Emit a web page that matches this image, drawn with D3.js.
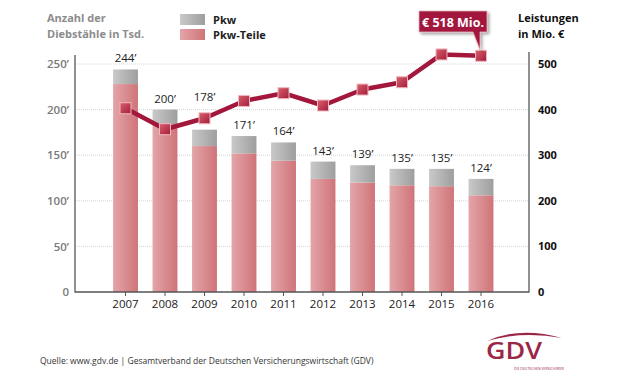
<!DOCTYPE html>
<html><head><meta charset="utf-8">
<script src="https://cdn.jsdelivr.net/npm/d3@7"></script>
<style>body{margin:0;background:#fff}svg{display:block}text{font-family:"Open Sans","Noto Sans",sans-serif}</style>
</head><body>
<script>
const years = ["2007","2008","2009","2010","2011","2012","2013","2014","2015","2016"];
const pkwTeile = [228,184,160,152,144,124,120,117,116,106];
const pkw = [16,16,18,19,20,19,19,18,19,18];
const totalLabels = ["244’","200’","178’","171’","164’","143’","139’","135’","135’","124’"];
const leistungen = [403,357,381,419,436,409,444,460,521,518];
const leftTicks = [0,50,100,150,200,250];
const leftTickLabels = ["0","50’","100’","150’","200’","250’"];
const rightTicks = [0,100,200,300,400,500];
const calloutText = "€ 518 Mio.";

const W=621,H=383;
const svg=d3.select("body").append("svg").attr("width",W).attr("height",H);
const defs=svg.append("defs");
const gPink=defs.append("linearGradient").attr("id","gp");
gPink.append("stop").attr("offset","0").attr("stop-color","#e3a5a8");
gPink.append("stop").attr("offset","1").attr("stop-color","#cf7479");
const gGray=defs.append("linearGradient").attr("id","gg");
gGray.append("stop").attr("offset","0").attr("stop-color","#c9c9c9");
gGray.append("stop").attr("offset","1").attr("stop-color","#9e9e9e");
const gMark=defs.append("linearGradient").attr("id","gm").attr("x1",0).attr("y1",0).attr("x2",1).attr("y2",1);
gMark.append("stop").attr("offset","0").attr("stop-color","#d9606e");
gMark.append("stop").attr("offset","1").attr("stop-color","#a41d3a");
const sh=defs.append("filter").attr("id","sh").attr("x","-20%").attr("y","-20%").attr("width","150%").attr("height","160%");
sh.append("feDropShadow").attr("dx",2).attr("dy",2).attr("stdDeviation",1.5).attr("flood-color","#000").attr("flood-opacity",0.35);

const xL=75,xR=529,y0=292,yTop=64;
const x=d3.scaleBand().domain(years).range([105.75,500.75]).paddingInner(0.37).paddingOuter(0.185);
const yL=d3.scaleLinear().domain([0,250]).range([y0,yTop]);
const yR=d3.scaleLinear().domain([0,500]).range([y0,yTop]);

// grid
svg.append("g").selectAll("line").data(leftTicks.slice(1)).join("line")
  .attr("x1",xL).attr("x2",xR).attr("y1",d=>yL(d)).attr("y2",d=>yL(d))
  .attr("stroke","#d6d6d6").attr("stroke-width",1).attr("stroke-dasharray","1,1");

// bars
const bars=svg.append("g");
const labelLayer=svg.append("g");
years.forEach((yr,i)=>{
  bars.append("rect").attr("x",x(yr)).attr("width",x.bandwidth())
    .attr("y",yL(pkwTeile[i])).attr("height",y0-yL(pkwTeile[i])).attr("fill","url(#gp)");
  bars.append("rect").attr("x",x(yr)).attr("width",x.bandwidth())
    .attr("y",yL(pkwTeile[i]+pkw[i])).attr("height",yL(pkwTeile[i])-yL(pkwTeile[i]+pkw[i])).attr("fill","url(#gg)");
});

// axes
const axL=svg.append("g").attr("transform",`translate(${xL},0)`).call(d3.axisLeft(yL).tickValues(leftTicks).tickSize(0).tickPadding(6).tickFormat((d,i)=>leftTickLabels[i]));
axL.select(".domain").remove();
axL.selectAll("text").attr("font-size",11.5).attr("font-weight","600").attr("fill","#7a7a7a").attr("font-family","Open Sans");
const axR=svg.append("g").attr("transform",`translate(${xR},0)`).call(d3.axisRight(yR).tickValues(rightTicks).tickSize(0).tickPadding(9));
axR.select(".domain").remove();
axR.selectAll("text").attr("font-size",11).attr("font-weight","bold").attr("fill","#111").attr("font-family","Open Sans");
const axB=svg.append("g").attr("transform",`translate(0,${y0})`).call(d3.axisBottom(x).tickSize(4).tickPadding(4));
axB.select(".domain").remove();
axB.selectAll("line").attr("stroke","#555");
axB.selectAll("text").attr("font-size",11.5).attr("fill","#222").attr("font-family","Open Sans");

svg.append("line").attr("x1",xL).attr("x2",xL).attr("y1",55).attr("y2",y0+0.5).attr("stroke","#555").attr("stroke-width",1.3);
svg.append("line").attr("x1",xR).attr("x2",xR).attr("y1",52).attr("y2",y0+0.5).attr("stroke","#555").attr("stroke-width",1.3);
svg.append("line").attr("x1",xL).attr("x2",xR).attr("y1",y0).attr("y2",y0).attr("stroke","#555").attr("stroke-width",1.5);

// line
const cx=d=>x(d)+x.bandwidth()/2;
const lineData=years.map((yr,i)=>[cx(yr),yR(leistungen[i])]);
svg.append("path").attr("d",d3.line()(lineData)).attr("fill","none").attr("stroke","#a3173d").attr("stroke-width",4.5).attr("stroke-linejoin","round");
svg.append("g").selectAll("rect").data(lineData).join("rect")
  .attr("x",d=>d[0]-5.5).attr("y",d=>d[1]-5.5).attr("width",11).attr("height",11)
  .attr("fill","url(#gm)").attr("stroke","#f0b8be").attr("stroke-width",1);

// bar total labels (lifted above the line where they would collide)
years.forEach((yr,i)=>{
  const top=yL(pkwTeile[i]+pkw[i]);
  const ly=lineData[i][1];
  let y=top-7;
  if(ly<top+6 && ly>top-28) y=ly-17;
  svg.append("text").attr("x",cx(yr)).attr("y",y)
    .attr("text-anchor","middle").attr("font-size",11.5).attr("fill","#222").text(totalLabels[i]);
});

// callout
const last=lineData[lineData.length-1];
const cb={x0:419,x1:487,y0:11,y1:32};
const cpath=`M${cb.x0},${cb.y0}H${cb.x1}V${cb.y1}H${last[0]-1}L${last[0]-1},${last[1]-6}L${last[0]-8},${cb.y1}H${cb.x0}Z`;
svg.append("path").attr("d",cpath).attr("fill","#a3173d").attr("stroke","#e6b3ba").attr("stroke-width",0.8).attr("filter","url(#sh)");
svg.append("text").attr("x",(cb.x0+cb.x1)/2).attr("y",26.5).attr("text-anchor","middle").attr("font-size",12.5).attr("font-weight","bold").attr("fill","#fff").text(calloutText);

// titles
const tl=svg.append("text").attr("x",47).attr("font-size",11).attr("font-weight","bold").attr("fill","#8c8c8c");
tl.append("tspan").attr("x",47).attr("y",22).text("Anzahl der");
tl.append("tspan").attr("x",47).attr("y",38).text("Diebstähle in Tsd.");
const tr=svg.append("text").attr("font-size",11).attr("font-weight","bold").attr("fill","#111");
tr.append("tspan").attr("x",518).attr("y",22).text("Leistungen");
tr.append("tspan").attr("x",518).attr("y",38).text("in Mio. €");

// legend
svg.append("rect").attr("x",180).attr("y",14).attr("width",25).attr("height",11).attr("fill","url(#gg)");
svg.append("rect").attr("x",180).attr("y",29).attr("width",25).attr("height",11).attr("fill","url(#gp)");
svg.append("text").attr("x",213).attr("y",24).attr("font-size",11).attr("font-weight","bold").attr("fill","#222").text("Pkw");
svg.append("text").attr("x",213).attr("y",39).attr("font-size",11).attr("font-weight","bold").attr("fill","#222").text("Pkw-Teile");

// footer
svg.append("text").attr("x",40).attr("y",364).attr("font-size",8.5).attr("fill","#333").text("Quelle: www.gdv.de | Gesamtverband der Deutschen Versicherungswirtschaft (GDV)");

// logo
svg.append("path").attr("d","M487,341 Q520,326 562,338 Q522,331 487,341Z").attr("fill","#9b2645");
svg.append("text").attr("x",486).attr("y",359).attr("font-size",24).attr("font-weight","600").attr("fill","#9b2645")
  .attr("transform","translate(486,359) scale(1.12,1) translate(-486,-359)").text("GDV");
svg.append("text").attr("x",514).attr("y",370).attr("font-size",3.5).attr("fill","#9b2645").text("DIE DEUTSCHEN VERSICHERER");
</script>
</body></html>
